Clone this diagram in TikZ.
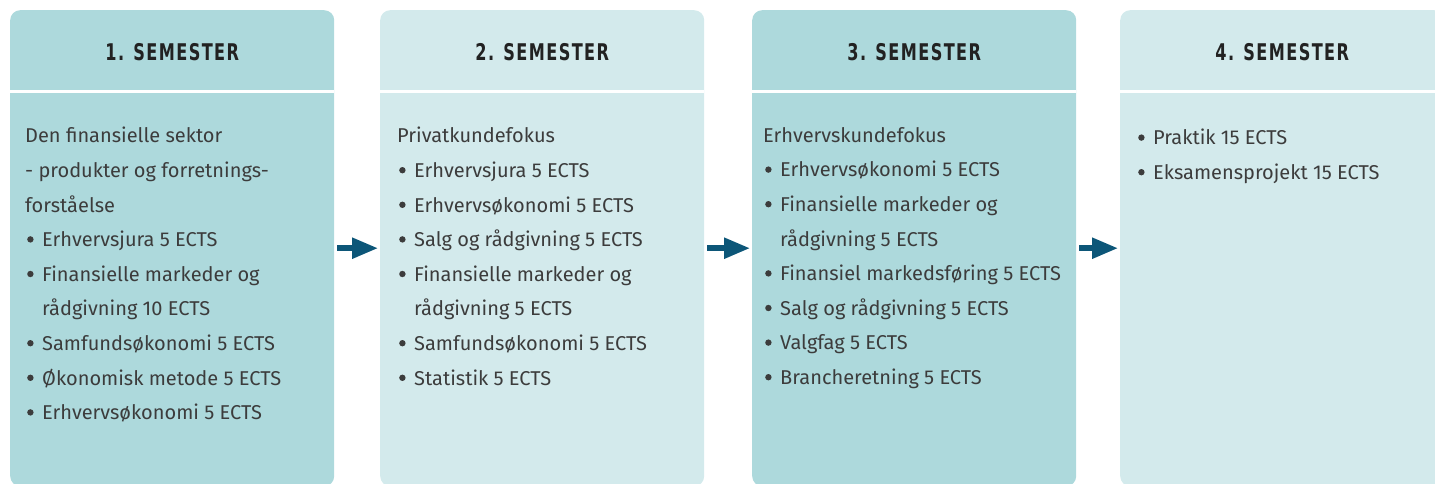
\documentclass[tikz,border=0pt]{standalone}
\usepackage{fontspec}
\setmainfont{Fira Sans}
\newfontfamily\headfont[FakeStretch=0.78,LetterSpace=6]{DejaVu Sans Condensed Bold}
\usetikzlibrary{arrows.meta, positioning}

\definecolor{tealdark}{RGB}{173,217,220}
\definecolor{teallight}{RGB}{211,234,236}
\definecolor{arrowblue}{RGB}{12,86,120}
\definecolor{bodygray}{RGB}{60,60,60}
\definecolor{headgray}{RGB}{34,34,34}

\newcommand\itm{\makebox[17pt][l]{\hspace*{2pt}\raisebox{4pt}{\tikz\fill[bodygray] (0,0) circle (3.2pt);}}}
\newcommand\cont{\makebox[17pt]{}}

\begin{document}
\begin{tikzpicture}[x=1pt, y=-1pt,
  semester/.style={rectangle, rounded corners=10pt, minimum width=324pt, minimum height=476pt, inner sep=0pt, anchor=north west},
  header/.style={rectangle, minimum width=324pt, minimum height=79pt, inner sep=0pt, anchor=north, font={\headfont\fontsize{23}{23}\selectfont}, text=headgray},
  body/.style={anchor=north west, inner sep=0pt, align=left, text=bodygray, font={\fontsize{20}{34.6}\selectfont}},
  step arrow/.style={draw=arrowblue, line width=5.5pt, -{Triangle[length=26pt, width=20pt]}, shorten <=3pt, shorten >=2pt}]

  \useasboundingbox (0,0) rectangle (1435,484);

  \node [semester, fill=tealdark] (sem1) at (10,10) {};
  \node [semester, fill=teallight] (sem2) at (380,10) {};
  \node [semester, fill=tealdark] (sem3) at (752,10) {};
  \node [semester, fill=teallight] (sem4) at (1120,10) {};

  \node [header, yshift=-2pt] (head1) at (sem1.north) {1. SEMESTER};
  \node [header, yshift=-2pt] (head2) at (sem2.north) {2. SEMESTER};
  \node [header, yshift=-2pt] (head3) at (sem3.north) {3. SEMESTER};
  \node [header, yshift=-2pt] (head4) at (sem4.north) {4. SEMESTER};

  \foreach \i in {1,...,4}
    \draw [white, line width=2.5pt] (sem\i.north west |- head\i.south) -- (sem\i.north east |- head\i.south);

  \node [body] (body1) at (25,127) {Den finansielle sektor\\
    - produkter og forretnings-\\
    forståelse\\
    \itm Erhvervsjura 5 ECTS\\
    \itm Finansielle markeder og\\
    \cont rådgivning 10 ECTS\\
    \itm Samfundsøkonomi 5 ECTS\\
    \itm Økonomisk metode 5 ECTS\\
    \itm Erhvervsøkonomi 5 ECTS};
  \node [body] (body2) at (397,127) {Privatkundefokus\\
    \itm Erhvervsjura 5 ECTS\\
    \itm Erhvervsøkonomi 5 ECTS\\
    \itm Salg og rådgivning 5 ECTS\\
    \itm Finansielle markeder og\\
    \cont rådgivning 5 ECTS\\
    \itm Samfundsøkonomi 5 ECTS\\
    \itm Statistik 5 ECTS};
  \node [body] (body3) at (763,127) {Erhvervskundefokus\\
    \itm Erhvervsøkonomi 5 ECTS\\
    \itm Finansielle markeder og\\
    \cont rådgivning 5 ECTS\\
    \itm Finansiel markedsføring 5 ECTS\\
    \itm Salg og rådgivning 5 ECTS\\
    \itm Valgfag 5 ECTS\\
    \itm Brancheretning 5 ECTS};
  \node [body] (body4) at (1136,129) {\itm Praktik 15 ECTS\\
    \itm Eksamensprojekt 15 ECTS};

  \draw [step arrow] (sem1) -- (sem2);
  \draw [step arrow] (sem2) -- (sem3);
  \draw [step arrow] (sem3) -- (sem4);
\end{tikzpicture}
\end{document}
